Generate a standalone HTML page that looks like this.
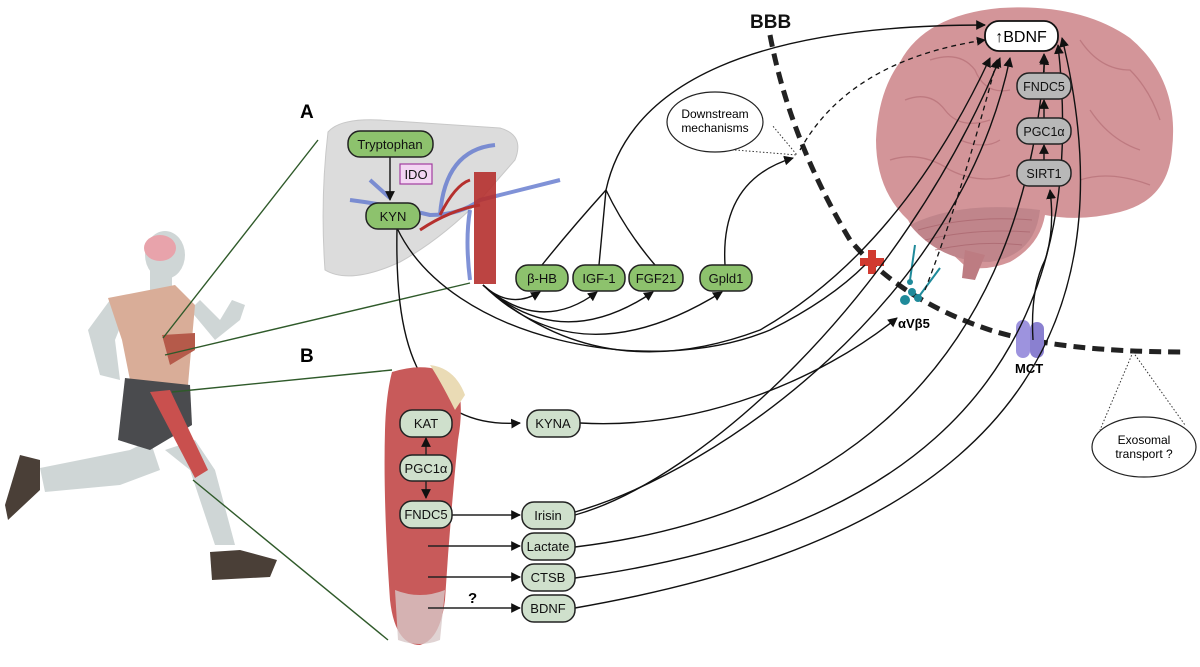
<!DOCTYPE html>
<html><head><meta charset="utf-8"><style>
html,body{margin:0;padding:0;background:#fff}
svg{display:block}
text{font-family:"Liberation Sans",sans-serif}
</style></head><body>
<svg width="1200" height="667" viewBox="0 0 1200 667" xmlns="http://www.w3.org/2000/svg">
<defs>
<marker id="ar" viewBox="0 0 10 10" refX="9" refY="5" markerWidth="7" markerHeight="7" orient="auto-start-reverse"><path d="M0,0 L10,5 L0,10 z" fill="#111"/></marker>
</defs>

<!-- Runner -->
<g fill="#cfd6d6">
<ellipse cx="165" cy="255" rx="20" ry="24"/>
<rect x="150" y="265" width="22" height="30"/>
<path d="M110,300 L88,330 L100,375 L120,380 L115,340 L125,315z"/>
<path d="M190,310 L215,340 L240,320 L245,305 L232,300 L220,320 L200,300z"/>
<path d="M40,468 L130,450 L150,440 L160,470 L120,485 L45,492z"/>
<path d="M165,450 L190,470 L215,545 L235,545 L215,470 L195,440z"/>
</g>
<path d="M108,298 L175,285 L195,305 L188,385 L130,380 L122,340z" fill="#d9ad98"/>
<path d="M125,378 L190,385 L192,425 L150,450 L118,440z" fill="#4a4b4e"/>
<path d="M150,392 L170,390 L208,470 L195,478z" fill="#c9504e"/>
<path d="M162,335 L195,333 L195,350 L170,365z" fill="#b55a4a"/>
<path d="M20,455 L40,460 L40,490 L8,520 L5,505z" fill="#4a3f37"/>
<path d="M210,552 L240,550 L277,560 L270,577 L212,580z" fill="#4a3f37"/>
<ellipse cx="160" cy="248" rx="16" ry="13" fill="#e8a3ab"/>

<!-- green zoom lines -->
<g stroke="#2f5a2a" stroke-width="1.4" fill="none">
<line x1="163" y1="338" x2="318" y2="140"/>
<line x1="165" y1="355" x2="470" y2="283"/>
<line x1="172" y1="392" x2="392" y2="370"/>
<line x1="193" y1="480" x2="388" y2="640"/>
</g>

<text x="300" y="118" font-size="19" font-weight="bold">A</text>
<text x="300" y="362" font-size="19" font-weight="bold">B</text>

<!-- Liver -->
<path d="M328,132 Q340,118 380,120 L500,128 Q525,135 515,160 L480,200 Q440,240 400,262 Q350,285 325,270 Q320,200 328,132z" fill="#dcdcdc" stroke="#c8c8c8"/>
<g stroke="#6a7fd0" stroke-width="4" fill="none" opacity="0.85">
<path d="M350,200 Q390,205 430,215 Q460,215 480,200 Q520,190 560,180"/>
<path d="M440,215 Q445,150 495,145"/>
<path d="M470,210 Q465,240 470,280"/>
<path d="M370,180 L390,198"/>
</g>
<rect x="474" y="172" width="22" height="112" fill="#b5302e" opacity="0.9"/>
<g stroke="#b5302e" stroke-width="3" fill="none"><path d="M420,230 Q450,210 480,205"/><path d="M440,215 Q455,185 470,180"/></g>

<!-- dashed BBB -->
<path d="M770,35 Q790,140 850,240 Q900,300 990,330 Q1060,352 1185,352" stroke="#222" stroke-width="5" stroke-dasharray="12,7" fill="none"/>
<text x="750" y="28" font-size="19" font-weight="bold" fill="#111">BBB</text>

<!-- Brain -->
<path d="M900,62 Q925,15 1000,8 Q1080,3 1130,38 Q1180,80 1172,150 Q1168,200 1120,212 Q1080,222 1045,215 Q1040,245 1010,262 Q985,272 965,266 L950,252 Q918,240 908,220 Q876,190 876,140 Q878,92 900,62z" fill="#d39599"/>
<g stroke="#b9747b" stroke-width="1.3" fill="none" opacity="0.8">
<path d="M905,100 Q930,90 945,110 Q960,130 990,120"/>
<path d="M930,60 Q960,50 975,70 Q985,95 1010,90"/>
<path d="M1080,40 Q1100,70 1130,70 Q1150,90 1160,120"/>
<path d="M890,160 Q920,150 950,170 Q980,185 1010,175"/>
<path d="M1090,110 Q1110,140 1140,150"/>
<path d="M1080,180 Q1110,170 1150,185"/>
<path d="M960,140 Q985,150 1000,140"/>
</g>
<path d="M910,225 Q960,200 1040,210 Q1035,255 990,262 Q940,262 910,225z" fill="#c0858b"/>
<g stroke="#a9646c" stroke-width="1" fill="none" opacity="0.7">
<path d="M918,230 Q970,215 1032,220"/><path d="M925,240 Q975,228 1030,232"/><path d="M935,250 Q980,240 1022,245"/>
</g>
<path d="M965,250 L985,255 L975,280 L962,278z" fill="#bd7c82"/>

<!-- integrin & MCT -->
<g fill="#1f8a9a"><circle cx="905" cy="300" r="5"/><circle cx="912" cy="292" r="4"/><circle cx="910" cy="282" r="3"/><circle cx="918" cy="298" r="4"/><line x1="910" y1="280" x2="915" y2="245" stroke="#1f8a9a" stroke-width="2"/><line x1="920" y1="295" x2="940" y2="268" stroke="#1f8a9a" stroke-width="2"/></g>
<text x="898" y="328" font-size="13" font-weight="bold">αVβ5</text>
<rect x="1016" y="320" width="14" height="38" rx="7" fill="#9d93de"/>
<rect x="1030" y="322" width="14" height="36" rx="7" fill="#8a80d0"/>
<text x="1015" y="373" font-size="13" font-weight="bold">MCT</text>
<path d="M860,258 h8 v-8 h8 v8 h8 v8 h-8 v8 h-8 v-8 h-8z" fill="#d13a30"/>

<!-- connectors -->
<g stroke="#111" stroke-width="1.4" fill="none">
<path d="M390,156 L390,200" marker-end="url(#ar)"/>
<path d="M542,265 Q570,230 606,190"/>
<path d="M599,265 L606,190"/>
<path d="M655,265 Q625,230 606,190"/>
<path d="M606,190 C630,80 760,25 985,25" marker-end="url(#ar)"/>
<path d="M725,265 Q720,180 793,158" marker-end="url(#ar)"/>
<path d="M483,285 Q510,310 540,292" marker-end="url(#ar)"/>
<path d="M483,285 Q540,335 597,292" marker-end="url(#ar)"/>
<path d="M483,285 Q560,355 653,292" marker-end="url(#ar)"/>
<path d="M483,285 Q580,380 722,292" marker-end="url(#ar)"/>
<path d="M483,285 Q600,390 760,330 Q900,250 990,58" marker-end="url(#ar)"/>
<path d="M397,228 C395,330 410,430 520,423" marker-end="url(#ar)"/>
<path d="M397,228 C450,340 650,380 770,330 Q830,300 865,265"/>
<path d="M580,423 C700,430 820,380 897,318" marker-end="url(#ar)"/>
<path d="M575,515 C700,480 900,300 1000,58" marker-end="url(#ar)"/>
<path d="M575,512 C720,470 960,300 1010,58" marker-end="url(#ar)"/>
<path d="M575,547 C800,520 1020,400 1045,56" marker-end="url(#ar)"/>
<path d="M575,578 C850,540 1100,420 1058,45" marker-end="url(#ar)"/>
<path d="M575,608 C850,560 1160,440 1062,38" marker-end="url(#ar)"/>
<path d="M1033,340 Q1030,290 1045,260 Q1055,230 1050,190" marker-end="url(#ar)"/>
<path d="M1044,160 L1044,145" marker-end="url(#ar)"/>
<path d="M1044,118 L1044,100" marker-end="url(#ar)"/>
<path d="M1044,72 L1044,54" marker-end="url(#ar)"/>
</g>
<g stroke="#111" stroke-width="1.3" fill="none" stroke-dasharray="5,4">
<path d="M800,150 Q850,60 985,40" marker-end="url(#ar)"/>
<path d="M925,290 Q960,200 997,60" marker-end="url(#ar)"/>
</g>
<g stroke="#333" stroke-width="1" fill="none" stroke-dasharray="1.5,2">
<path d="M735,150 L797,155 L772,125"/>
<path d="M1133,352 L1100,430 M1133,352 L1185,425"/>
</g>

<!-- ellipses -->
<ellipse cx="715" cy="122" rx="48" ry="30" fill="#fff" stroke="#222" stroke-width="1.2"/>
<text x="715" y="118" font-size="12" text-anchor="middle">Downstream</text>
<text x="715" y="132" font-size="12" text-anchor="middle">mechanisms</text>
<ellipse cx="1144" cy="447" rx="52" ry="30" fill="#fff" stroke="#222" stroke-width="1.2"/>
<text x="1144" y="444" font-size="12" text-anchor="middle">Exosomal</text>
<text x="1144" y="458" font-size="12" text-anchor="middle">transport ?</text>

<!-- liver boxes -->
<g stroke="#222" stroke-width="1.5" font-size="13">
<rect x="348" y="131" width="85" height="26" rx="12" fill="#8dc26d"/>
<rect x="366" y="203" width="54" height="26" rx="12" fill="#8dc26d"/>
<rect x="400" y="164" width="32" height="20" fill="#f3d6f3" stroke="#a23ca0" stroke-width="1.2"/>
<rect x="516" y="265" width="52" height="26" rx="12" fill="#8dc26d"/>
<rect x="573" y="265" width="52" height="26" rx="12" fill="#8dc26d"/>
<rect x="629" y="265" width="54" height="26" rx="12" fill="#8dc26d"/>
<rect x="700" y="265" width="52" height="26" rx="12" fill="#8dc26d"/>
</g>
<g font-size="13" text-anchor="middle" fill="#111">
<text x="390" y="149">Tryptophan</text>
<text x="393" y="221">KYN</text>
<text x="416" y="179">IDO</text>
<text x="542" y="283">β-HB</text>
<text x="599" y="283">IGF-1</text>
<text x="656" y="283">FGF21</text>
<text x="726" y="283">Gpld1</text>
</g>

<!-- muscle -->
<path d="M392,372 Q430,360 455,378 Q465,400 458,440 Q450,520 445,600 Q440,640 420,645 Q395,645 390,600 Q383,500 385,430 Q386,395 392,372z" fill="#c85a5a"/>
<path d="M430,365 Q455,368 465,395 L455,410 Q440,380 430,365z" fill="#eadbb5"/>
<path d="M395,590 Q420,600 445,590 L440,640 Q420,648 398,640z" fill="#d8c8c8" opacity="0.8"/>
<g stroke="#222" stroke-width="1.4" fill="none">
<path d="M426,455 L426,438" marker-end="url(#ar)"/>
<path d="M426,481 L426,498" marker-end="url(#ar)"/>
<path d="M452,515 L520,515" marker-end="url(#ar)"/>
<path d="M428,546 L520,546" marker-end="url(#ar)"/>
<path d="M428,577 L520,577" marker-end="url(#ar)"/>
<path d="M428,608 L520,608" marker-end="url(#ar)"/>
</g>
<text x="468" y="603" font-size="15" font-weight="bold">?</text>
<g stroke="#222" stroke-width="1.5" fill="#cfe0cc">
<rect x="400" y="410" width="52" height="27" rx="12"/>
<rect x="400" y="455" width="52" height="26" rx="12"/>
<rect x="400" y="501" width="52" height="27" rx="12"/>
<rect x="527" y="410" width="53" height="27" rx="12"/>
<rect x="522" y="502" width="53" height="27" rx="12"/>
<rect x="522" y="533" width="53" height="27" rx="12"/>
<rect x="522" y="564" width="53" height="27" rx="12"/>
<rect x="522" y="595" width="53" height="27" rx="12"/>
</g>
<g font-size="13" text-anchor="middle" fill="#111">
<text x="426" y="428">KAT</text>
<text x="426" y="473">PGC1α</text>
<text x="426" y="519">FNDC5</text>
<text x="553" y="428">KYNA</text>
<text x="548" y="520">Irisin</text>
<text x="548" y="551">Lactate</text>
<text x="548" y="582">CTSB</text>
<text x="548" y="613">BDNF</text>
</g>

<!-- brain boxes -->
<rect x="985" y="21" width="73" height="30" rx="14" fill="#fff" stroke="#111" stroke-width="1.8"/>
<text x="1021" y="42" font-size="16" text-anchor="middle">↑BDNF</text>
<g stroke="#222" stroke-width="1.5" fill="#b8b8b8">
<rect x="1017" y="73" width="54" height="26" rx="12"/>
<rect x="1017" y="118" width="54" height="26" rx="12"/>
<rect x="1017" y="160" width="54" height="26" rx="12"/>
</g>
<g font-size="12.5" text-anchor="middle" fill="#111">
<text x="1044" y="91">FNDC5</text>
<text x="1044" y="136">PGC1α</text>
<text x="1044" y="178">SIRT1</text>
</g>
</svg>
</body></html>
